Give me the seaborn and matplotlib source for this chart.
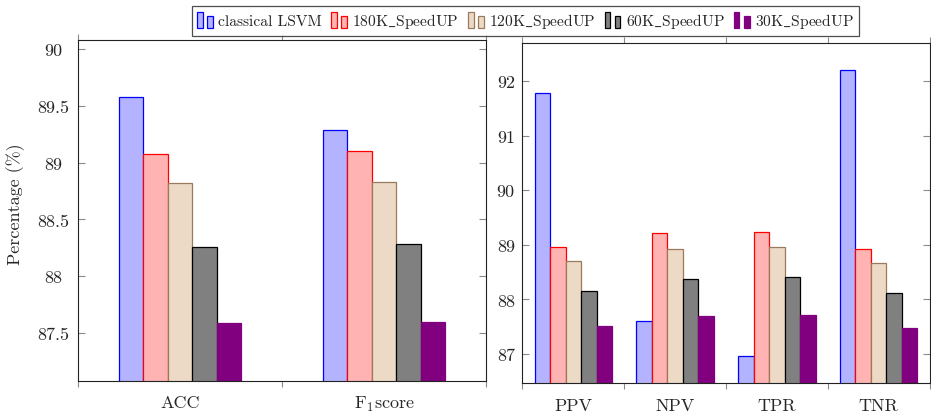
import matplotlib
matplotlib.use("Agg")
import matplotlib.pyplot as plt
from matplotlib.patches import Rectangle
from matplotlib.legend_handler import HandlerBase
import pandas as pd
import seaborn as sns

# ---- data -------------------------------------------------------------
models = ["classical LSVM", "180K_SpeedUP", "120K_SpeedUP", "60K_SpeedUP", "30K_SpeedUP"]
# Computer Modern maps "_" to an accent, so the underscore goes through mathtext
model_labels = ["classical LSVM", r"180K$\_$SpeedUP", r"120K$\_$SpeedUP",
                r"60K$\_$SpeedUP", r"30K$\_$SpeedUP"]

summary_metrics = ["ACC", r"F$_1$score"]
lsvm_summary = [89.58, 89.29]
speedup180_summary = [89.08, 89.10]
speedup120_summary = [88.82, 88.83]
speedup60_summary = [88.26, 88.28]
speedup30_summary = [87.59, 87.60]

rate_metrics = ["PPV", "NPV", "TPR", "TNR"]
lsvm_rates = [91.78, 87.60, 86.96, 92.21]
speedup180_rates = [88.96, 89.21, 89.24, 88.93]
speedup120_rates = [88.70, 88.93, 88.97, 88.67]
speedup60_rates = [88.16, 88.38, 88.41, 88.12]
speedup30_rates = [87.51, 87.69, 87.72, 87.47]

summary_ticks = [87.5, 88, 88.5, 89, 89.5, 90]
summary_ticklabels = ["87.5", "88", "88.5", "89", "89.5", "90"]
rate_ticks = [87, 88, 89, 90, 91, 92]
rate_ticklabels = ["87", "88", "89", "90", "91", "92"]

fill_colors = ["#b3b3ff", "#ffb3b3", "#ecd9c6", "#808080", "#800080"]
edge_colors = ["#0000ff", "#ff0000", "#9a7a5a", "#000000", "#800080"]


def long_frame(metrics, series):
    rows = []
    for model, values in zip(models, series):
        for metric, v in zip(metrics, values):
            rows.append({"metric": metric, "model": model, "value": v})
    return pd.DataFrame(rows)


summary_df = long_frame(summary_metrics, [lsvm_summary, speedup180_summary,
                                          speedup120_summary, speedup60_summary,
                                          speedup30_summary])
rates_df = long_frame(rate_metrics, [lsvm_rates, speedup180_rates, speedup120_rates,
                                     speedup60_rates, speedup30_rates])

# ---- style ------------------------------------------------------------
sns.set_style("ticks")
plt.rcParams["font.family"] = ["cmr10", "DejaVu Serif"]
plt.rcParams["mathtext.fontset"] = "cm"
plt.rcParams["axes.unicode_minus"] = False
plt.rcParams["axes.formatter.use_mathtext"] = True

fig = plt.figure(figsize=(9.31, 4.14), dpi=100)
ax_l = fig.add_axes([0.0838, 0.0773, 0.4382, 0.8244])
ax_r = fig.add_axes([0.5612, 0.0717, 0.4372, 0.8220])


def draw_panel(ax, df, order, width, ylim, ticks, ticklabels, label_pad, xpad):
    sns.barplot(data=df, x="metric", y="value", hue="model", order=order,
                hue_order=models, palette=fill_colors, width=width, gap=0,
                saturation=1, legend=False, ax=ax, linewidth=0.9)
    for container, ec in zip(ax.containers, edge_colors):
        for bar in container:
            bar.set_edgecolor(ec)
            bar.set_linewidth(0.9)
    n = len(order)
    ax.set_xlim(-0.5, n - 0.5)
    ax.set_ylim(*ylim)
    ax.set_xticks([i - 0.5 for i in range(n + 1)])
    ax.set_xticklabels([])
    ax.set_xticks(list(range(n)), minor=True)
    ax.set_xticklabels(order, minor=True)
    ax.tick_params(axis="x", which="major", direction="out", length=4.5, width=0.8,
                   color="#8a8a8a", top=True, bottom=True, labelbottom=False)
    ax.tick_params(axis="x", which="minor", length=0, labelsize=13, pad=xpad)
    ax.set_yticks(ticks)
    ax.set_yticklabels(ticklabels)
    ax.tick_params(axis="y", direction="in", length=5, width=0.8, color="#8a8a8a",
                   left=True, right=True, labelsize=13, pad=label_pad)
    plt.setp(ax.get_yticklabels(), ha="center")
    for s in ax.spines.values():
        s.set_visible(True)
        s.set_color("#222222")
        s.set_linewidth(0.8)
    ax.set_xlabel("")
    ax.set_ylabel("")


draw_panel(ax_l, summary_df, summary_metrics, 0.6, (87.077, 90.082),
           summary_ticks, summary_ticklabels, 18, 9.5)
draw_panel(ax_r, rates_df, rate_metrics, 0.76, (86.463, 92.70),
           rate_ticks, rate_ticklabels, 12, 10.5)

ax_l.set_ylabel("Percentage (%)", fontsize=13)
ax_l.yaxis.set_label_coords(-0.13, 0.52)


# ---- legend with two-bar glyphs ------------------------------------------
class TwoBarHandler(HandlerBase):
    def create_artists(self, legend, orig_handle, xdescent, ydescent, width,
                       height, fontsize, trans):
        fc = orig_handle.get_facecolor()
        ec = orig_handle.get_edgecolor()
        w = width * 0.33
        y0 = -ydescent - height * 0.2
        r1 = Rectangle((-xdescent, y0), w, height * 1.4, facecolor=fc,
                       edgecolor=ec, linewidth=0.9, transform=trans)
        r2 = Rectangle((-xdescent + width * 0.62, y0), w, height * 1.1,
                       facecolor=fc, edgecolor=ec, linewidth=0.9, transform=trans)
        return [r1, r2]


handles = [Rectangle((0, 0), 1, 1, facecolor=fc, edgecolor=ec)
           for fc, ec in zip(fill_colors, edge_colors)]
leg = fig.legend(handles, model_labels, loc="upper center",
                 bbox_to_anchor=(0.5644, 0.983), ncol=5, fontsize=11.2,
                 frameon=True, fancybox=False, edgecolor="#222222",
                 handlelength=1.05, handletextpad=0.3, columnspacing=0.6,
                 borderpad=0.35, borderaxespad=0,
                 handler_map={Rectangle: TwoBarHandler()})
leg.get_frame().set_linewidth(0.9)

fig.savefig("out.png", dpi=100)
